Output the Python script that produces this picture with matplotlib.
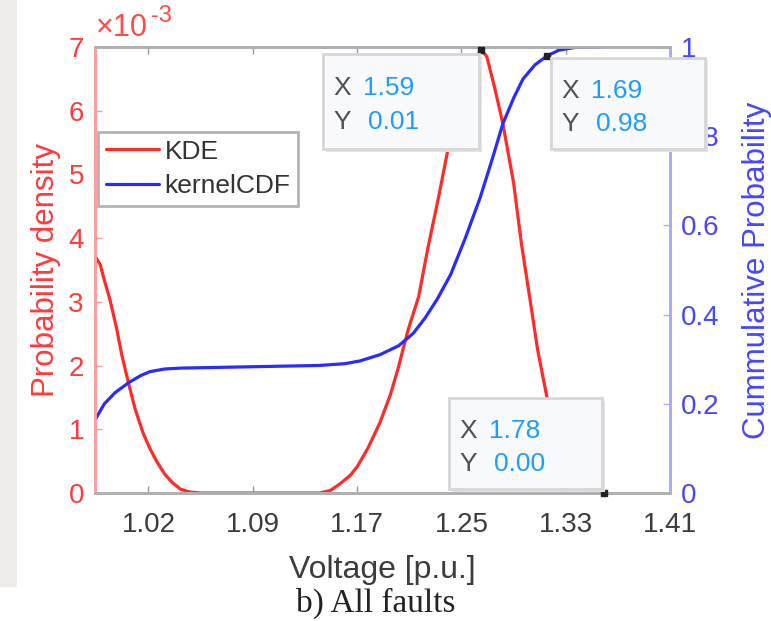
import numpy as np
import matplotlib
matplotlib.use("Agg")
import matplotlib.pyplot as plt
from matplotlib.patches import Rectangle

plt.rcParams['font.family'] = ['Liberation Sans', 'DejaVu Sans']

# KDE curve (density in units of 1e-3)
kde_v = [0.980, 0.984, 0.987, 0.991, 0.996, 1.000, 1.005, 1.010, 1.016, 1.021,
         1.026, 1.032, 1.038, 1.044, 1.051, 1.059, 1.148, 1.156, 1.163, 1.171,
         1.176, 1.184, 1.193, 1.201, 1.207, 1.214, 1.222, 1.229, 1.237, 1.244,
         1.252, 1.259, 1.265, 1.269, 1.273, 1.279, 1.285, 1.293, 1.299, 1.305,
         1.311, 1.318, 1.325, 1.332, 1.340, 1.349, 1.361]
kde_d = [3.72, 3.58, 3.34, 3.05, 2.60, 2.17, 1.73, 1.32, 0.94, 0.70,
         0.50, 0.30, 0.16, 0.06, 0.015, 0.0, 0.0, 0.04, 0.14, 0.28,
         0.41, 0.70, 1.10, 1.55, 1.98, 2.55, 3.08, 3.85, 4.65, 5.40,
         6.05, 6.55, 6.85, 6.95, 6.85, 6.35, 5.80, 4.87, 3.90, 3.08,
         2.25, 1.50, 0.85, 0.38, 0.12, 0.02, 0.0]

# kernel CDF curve
cdf_v = [0.980, 0.987, 0.995, 1.005, 1.014, 1.021, 1.032, 1.044, 1.096, 1.148,
         1.167, 1.178, 1.193, 1.207, 1.218, 1.227, 1.236, 1.246, 1.257, 1.268,
         1.277, 1.285, 1.293, 1.300, 1.309, 1.318, 1.327, 1.339, 1.360]
cdf_p = [0.164, 0.20, 0.225, 0.247, 0.263, 0.272, 0.278, 0.280, 0.283, 0.286,
         0.290, 0.296, 0.310, 0.330, 0.358, 0.393, 0.435, 0.490, 0.572, 0.662,
         0.748, 0.828, 0.885, 0.928, 0.960, 0.980, 0.993, 0.999, 1.0]

x_ticks = [1.02, 1.098, 1.176, 1.254, 1.332, 1.41]
x_labels = ['1.02', '1.09', '1.17', '1.25', '1.33', '1.41']
y1_ticks = [0, 1, 2, 3, 4, 5, 6, 7]
y2_ticks = [0, 0.2, 0.4, 0.6, 0.8, 1]
y2_labels = ['0', '0.2', '0.4', '0.6', '0.8', '1']

# data tips: (label X, label Y)
tips = [('1.59', '0.01'), ('1.69', '0.98'), ('1.78', '0.00')]

W, H = 771, 621
RED = '#ff2a2a'
BLUE = '#2b2bff'
TIPBLUE = '#1f9dff'


def fx(x):
    return x / W


def fy(y):
    return 1 - y / H


fig = plt.figure(figsize=(W / 100, H / 100), dpi=100)
fig.patch.set_facecolor('white')

# gray strip on the left (page background)
fig.add_artist(Rectangle((0, fy(587)), fx(17), 587 / H, transform=fig.transFigure,
                         facecolor='#eeede9', edgecolor='none', zorder=0))

ax = fig.add_axes([fx(95), fy(493), (670 - 95) / W, (493 - 47) / H])
ax2 = ax.twinx()

l1, = ax.plot(kde_v, kde_d, color=RED, lw=2.3, label='KDE',
              solid_joinstyle='round', solid_capstyle='round')
l2, = ax2.plot(cdf_v, cdf_p, color=BLUE, lw=2.3, label='kernelCDF',
               solid_joinstyle='round', solid_capstyle='round')

ax.set_xlim(0.98, 1.41)
ax.set_ylim(0, 7)
ax2.set_ylim(0, 1)

ax.set_xticks(x_ticks)
ax.set_xticklabels(x_labels)
ax.set_yticks(y1_ticks)
ax2.set_yticks(y2_ticks)
ax2.set_yticklabels(y2_labels)

ax.tick_params(axis='x', direction='in', length=5, width=1, color='#999999',
               labelsize=20, labelcolor='#3c3c3c', pad=14, top=True)
ax.tick_params(axis='y', direction='in', length=5, width=1, color='#ff9a9a',
               labelsize=20, labelcolor='#ff3a3a', pad=8)
ax2.tick_params(axis='y', direction='in', length=5, width=1, color='#a9a9ff',
                labelsize=20, labelcolor='#4646ff', pad=8)

for a in (ax, ax2):
    a.spines['top'].set_color('#b0b0b0')
    a.spines['bottom'].set_color('#b0b0b0')
    a.spines['left'].set_color('#ff9e9e')
    a.spines['right'].set_color('#aaaaff')
    for s in a.spines.values():
        s.set_linewidth(2)

ax.set_xlabel('Voltage [p.u.]', fontsize=23, color='#3c3c3c', labelpad=12)
fig.text(fx(46), fy(270), 'Probability density', rotation=90, fontsize=22.5,
         color='#ff3a3a', ha='center', va='center')
fig.text(fx(757), fy(270), 'Cummulative Probability', rotation=90, fontsize=22.5,
         color='#4646ff', ha='center', va='center')

# exponent label
fig.text(fx(96), fy(28), '\u00d710', fontsize=22, color='#ff4a4a', ha='left', va='center')
fig.text(fx(151), fy(16), '-3', fontsize=17, color='#ff4a4a', ha='left', va='center')

leg = ax.legend([l1, l2], ['KDE', 'kernelCDF'], loc='upper left',
                bbox_to_anchor=(0.006, 0.81), borderaxespad=0, fontsize=19,
                handlelength=2.0, handletextpad=0.2, labelspacing=0.4,
                borderpad=0.3, fancybox=False, framealpha=1)
leg.get_frame().set_edgecolor('#b4b4b4')
leg.get_frame().set_linewidth(2)
for t in leg.get_texts():
    t.set_color('#333333')
leg.remove()
ax2.add_artist(leg)

# data tip markers
ipk = int(np.argmax(kde_d))
ax2.plot(kde_v[ipk], kde_d[ipk] / 7, 's', ms=4, color='#222222', clip_on=False, zorder=5)
ic = cdf_p.index(0.980)
ax2.plot(cdf_v[ic], cdf_p[ic], 's', ms=4, color='#222222', clip_on=False, zorder=5)
ax2.plot(kde_v[-1], kde_d[-1], 's', ms=4, color='#222222', clip_on=False, zorder=5)

# data tip boxes (pixel boxes: left, top, right, bottom)
boxes = [(323, 54, 479, 149), (551, 58, 705, 149), (449, 398, 602, 489)]
for (l, t, r, b), (xs, ys) in zip(boxes, tips):
    fig.add_artist(Rectangle((fx(l + 3), fy(b + 3)), (r - l) / W, (b - t) / H,
                             transform=fig.transFigure, facecolor='#e4e4e4',
                             edgecolor='none', zorder=4))
    fig.add_artist(Rectangle((fx(l), fy(b)), (r - l) / W, (b - t) / H,
                             transform=fig.transFigure, facecolor='#f8f9fd',
                             edgecolor='#d6d6d6', lw=2, zorder=5))
    cy1 = t + 0.36 * (b - t)
    cy2 = t + 0.72 * (b - t)
    fig.text(fx(l + 10), fy(cy1), 'X', fontsize=19, color='#505050', va='center', zorder=6)
    fig.text(fx(l + 40), fy(cy1), xs, fontsize=19, color=TIPBLUE, va='center', zorder=6)
    fig.text(fx(l + 10), fy(cy2), 'Y', fontsize=19, color='#505050', va='center', zorder=6)
    fig.text(fx(l + 45), fy(cy2), ys, fontsize=19, color=TIPBLUE, va='center', zorder=6)

fig.text(fx(376), fy(603), 'b) All faults', fontsize=24, family='Liberation Serif',
         color='#222222', ha='center', va='center')

fig.savefig('out.png', dpi=100)
